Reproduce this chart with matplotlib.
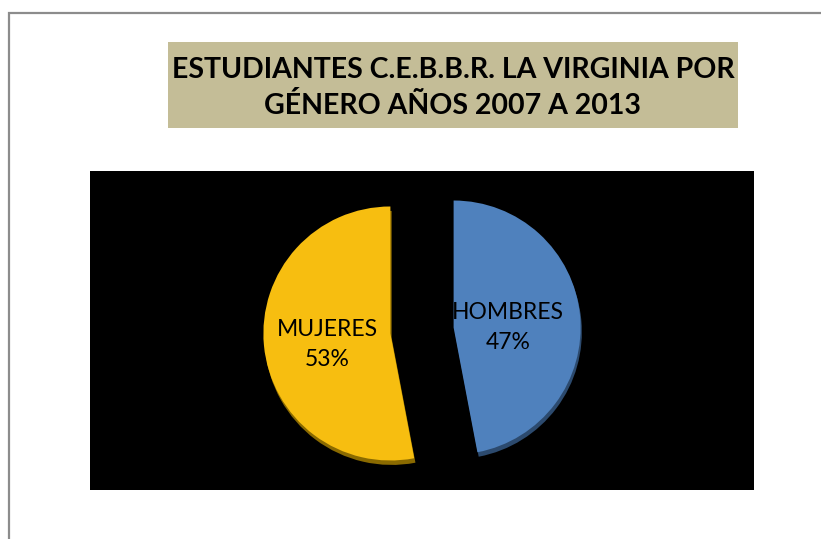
import matplotlib
matplotlib.use('Agg')
import matplotlib.pyplot as plt
from matplotlib.patches import Rectangle
import numpy as np

labels = ['HOMBRES', 'MUJERES']
shares = [47, 53]
colors = ['#4F81BD', '#F7BE10']
edge_colors = ['#2C4A6E', '#8A6A00']
title = 'ESTUDIANTES C.E.B.B.R. LA VIRGINIA POR\nGÉNERO AÑOS 2007 A 2013'

W, H = 821, 539
fig = plt.figure(figsize=(W / 100, H / 100), dpi=100)
fig.patch.set_facecolor('white')

def fx(px):
    return px / W

def fy(py):
    return 1 - py / H

# outer chart border (runs off the right and bottom edges)
fig.patches.append(Rectangle((fx(9), -0.05), 1.2, fy(13) + 0.05, transform=fig.transFigure,
                             fill=False, edgecolor='#8c8c8c', lw=1.6))

# title box
fig.patches.append(Rectangle((fx(168), fy(128)), fx(738) - fx(168), fy(42) - fy(128),
                             transform=fig.transFigure, facecolor='#C4BD97', edgecolor='none'))
fig.text(fx(453), fy(88), title, ha='center', va='center', fontsize=20.5, fontweight='bold',
         family='Lato', linespacing=1.45, color='black')

# plot area
ax = fig.add_axes([fx(90), fy(490), fx(754) - fx(90), fy(171) - fy(490)])
ax.set_facecolor('black')
r = 127
xl = (754 - 90) / 2 / r
yl = (490 - 171) / 2 / r
for s in ax.spines.values():
    s.set_visible(False)

expl = [0.25, 0.25]
# darker copy underneath for the 3D rim
ax.pie(shares, colors=edge_colors, startangle=90, counterclock=False, explode=expl,
       center=(0.01, -0.035), radius=1, frame=True)
wedges, texts = ax.pie(shares, colors=colors, startangle=90, counterclock=False,
                       explode=expl, radius=1, frame=True)

# label distance from pie centre along each wedge's mid-angle
label_dist = [0.68, 0.75]
for w, lab, val, d in zip(wedges, labels, shares, label_dist):
    ang = np.deg2rad((w.theta1 + w.theta2) / 2)
    ax.text(d * np.cos(ang), d * np.sin(ang) - 0.04, f'{lab}\n{val}%', ha='center', va='center',
            fontsize=16.5, family='Lato', linespacing=1.55, color='black')

ax.set_xticks([])
ax.set_yticks([])
ax.set_xlim(-xl, xl)
ax.set_ylim(-yl, yl)
ax.set_aspect('auto')

fig.savefig('out.png', dpi=100, facecolor='white')
